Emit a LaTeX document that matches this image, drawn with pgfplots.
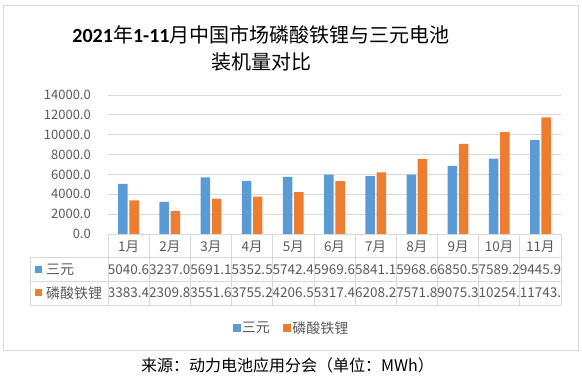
\documentclass[border=0pt]{standalone}
\usepackage{fontspec}
\setmainfont{Noto Sans CJK SC}
\newfontfamily\calb{Carlito}
\usepackage{pgfplots}
\pgfplotsset{compat=1.18}
\definecolor{sanyuan}{HTML}{5B9BD5}
\definecolor{lfp}{HTML}{ED7D31}
\definecolor{gridc}{HTML}{D9D9D9}
\definecolor{txt}{HTML}{595959}
\begin{document}
\begin{tikzpicture}
\useasboundingbox (0pt,0pt) rectangle (582pt,380pt);
\begin{scope}[x=1pt,y=1pt]
\draw[gridc, line width=0.8pt] (3,30) rectangle (578,375);
\node[anchor=center, inner sep=0pt] at (261,345) {\fontsize{20}{24}\selectfont {\calb\bfseries 2021}年{\calb\bfseries 1-11}月中国市场磷酸铁锂与三元电池};
\node[anchor=center, inner sep=0pt] at (261,318) {\fontsize{20}{24}\selectfont 装机量对比};
\end{scope}
\begin{axis}[at={(108pt,146pt)}, anchor=south west, width=453pt, height=139pt, scale only axis,
  xmin=-0.5, xmax=10.5, ymin=0, ymax=14000,
  ytick={0,2000,...,14000}, xtick={0,...,10}, scaled y ticks=false,
  axis line style={draw=none}, major tick length=0pt,
  ymajorgrids, grid style={gridc, line width=0.8pt},
  /pgf/number format/assume math mode=true,
  yticklabel style={/pgf/number format/fixed, /pgf/number format/fixed zerofill, /pgf/number format/precision=1, /pgf/number format/1000 sep={}, font=\fontsize{13}{15}\selectfont, text=txt, anchor=east, inner sep=0pt, xshift=-17pt},
  xticklabels={{1月\\5040.6\\3383.4},{2月\\3237.0\\2309.8},{3月\\5691.1\\3551.6},{4月\\5352.5\\3755.2},{5月\\5742.4\\4206.5},{6月\\5969.6\\5317.4},{7月\\5841.1\\6208.2},{8月\\5968.6\\7571.8},{9月\\6850.5\\9075.3},{10月\\7589.2\\10254.},{11月\\9445.9\\11743.}},
  xticklabel style={align=center, font=\fontsize{13.5}{23}\selectfont, text=txt, anchor=north, inner sep=0pt, yshift=-6.5pt},
  legend style={at={(0.405,-0.676)}, anchor=center, draw=none, fill=none, legend columns=2, font=\fontsize{14}{16}\selectfont, text=txt, /tikz/every even column/.append style={column sep=11pt}, nodes={inner sep=2pt}},
]
\addplot[ybar, bar width=9.5pt, bar shift=-5.6pt, fill=sanyuan, draw=none, forget plot] coordinates {
(0,5040.6) (1,3237.0) (2,5691.1) (3,5352.5) (4,5742.4) (5,5969.6) (6,5841.1) (7,5968.6) (8,6850.5) (9,7589.2) (10,9445.9)};
\addplot[ybar, bar width=9.5pt, bar shift=5.6pt, fill=lfp, draw=none, forget plot] coordinates {
(0,3383.4) (1,2309.8) (2,3551.6) (3,3755.2) (4,4206.5) (5,5317.4) (6,6208.2) (7,7571.8) (8,9075.3) (9,10254.5) (10,11743.2)};
\addlegendimage{legend image code/.code={\fill[sanyuan] (0pt,-3.5pt) rectangle (7pt,3.5pt);}}
\addlegendentry{三元}
\addlegendimage{legend image code/.code={\fill[lfp] (0pt,-3.5pt) rectangle (7pt,3.5pt);}}
\addlegendentry{磷酸铁锂}
\end{axis}
\begin{scope}[x=1pt,y=1pt]
\begin{scope}[gridc, line width=0.8pt]
\draw (30,123) -- (561,123);
\draw (30,99) -- (561,99);
\draw (30,75) -- (561,75);
\draw (30,75) -- (30,123);
\foreach \k in {0,...,11} {\draw ({108+41.1818*\k},146) -- ({108+41.1818*\k},75);}
\end{scope}
\fill[sanyuan] (35,106.5) rectangle (42,113.5);
\fill[lfp] (35,83.5) rectangle (42,90.5);
\node[anchor=west, inner sep=0pt, text=txt] at (46,110) {\fontsize{14}{16}\selectfont 三元};
\node[anchor=west, inner sep=0pt, text=txt] at (46,87) {\fontsize{14}{16}\selectfont 磷酸铁锂};
\node[anchor=center, inner sep=0pt] at (287.5,15) {\fontsize{16}{18}\selectfont 来源：动力电池应用分会（单位：MWh）};
\end{scope}
\end{tikzpicture}
\end{document}
